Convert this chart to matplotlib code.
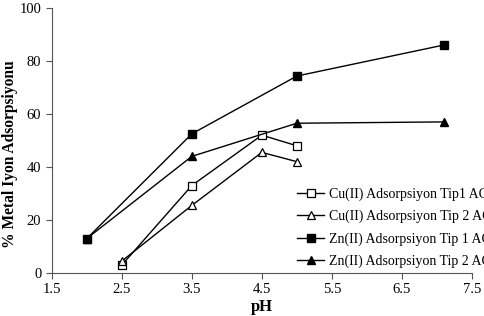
import numpy as np
import matplotlib.pyplot as plt

plt.rcParams['font.family'] = ['Liberation Serif', 'DejaVu Serif']

# Veriler
ph_cu = [2.5, 3.5, 4.5, 5.0]
cu_tip1 = [3, 33, 52, 48]
cu_tip2 = [4.5, 25.5, 45.5, 42]

ph_zn = [2.0, 3.5, 5.0, 7.1]
zn_tip1 = [13, 52.5, 74.3, 86]
zn_tip2 = [13, 44, 56.5, 57]

labels = ['Cu(II) Adsorpsiyon Tip1 AC',
          'Cu(II) Adsorpsiyon Tip 2 AC',
          'Zn(II) Adsorpsiyon Tip 1 AC',
          'Zn(II) Adsorpsiyon Tip 2 AC']

fig = plt.figure(figsize=(4.84, 3.16), dpi=100)
ax = fig.add_axes([0.107, 0.136, 0.868, 0.839])

ms = 5.5
ax.plot(ph_cu, cu_tip1, '-s', color='black', lw=1, ms=ms, mfc='white', mec='black', mew=0.9, label=labels[0])
ax.plot(ph_cu, cu_tip2, '-^', color='black', lw=1, ms=ms + 0.5, mfc='white', mec='black', mew=0.9, label=labels[1])
ax.plot(ph_zn, zn_tip1, '-s', color='black', lw=1, ms=ms, mfc='black', label=labels[2])
ax.plot(ph_zn, zn_tip2, '-^', color='black', lw=1, ms=ms + 0.5, mfc='black', label=labels[3])

ax.set_xlim(1.5, 7.5)
ax.set_ylim(0, 100)
ax.set_xticks(np.arange(1.5, 7.6, 1.0))
ax.set_yticks(np.arange(0, 101, 20))
ax.spines['top'].set_visible(False)
ax.spines['right'].set_visible(False)
for s in ['left', 'bottom']:
    ax.spines[s].set_color('#555555')
    ax.spines[s].set_linewidth(0.8)
ax.tick_params(direction='out', length=4, width=0.8, color='#555555', labelsize=10.5)

ax.set_xlabel('pH', fontsize=12, fontweight='bold', labelpad=2)
ax.set_ylabel('% Metal Iyon Adsorpsiyonu', fontsize=11.2, fontweight='bold')
ax.yaxis.set_label_coords(-0.08, 0.45)

leg = fig.legend(loc='upper left', bbox_to_anchor=(0.613, 0.408), frameon=False,
                 fontsize=10, handlelength=2.0, handletextpad=0.3, labelspacing=0.65,
                 borderaxespad=0, borderpad=0)

fig.savefig('out.png', dpi=100)
